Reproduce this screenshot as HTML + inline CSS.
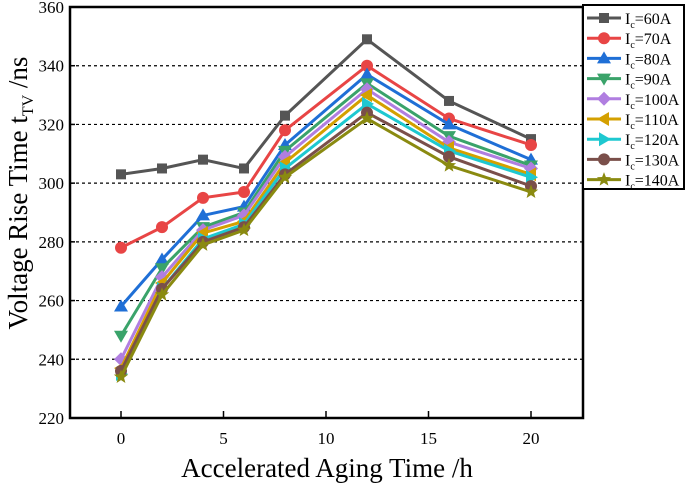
<!DOCTYPE html>
<html><head><meta charset="utf-8"><style>
body{margin:0;background:#fff;width:685px;height:485px;overflow:hidden}
svg text{font-family:"Liberation Serif",serif;fill:#000}
</style></head><body>
<svg id="chart" width="685" height="485"></svg>
<script>
const xs=[0,2,4,6,8,12,16,20];
const names=['60A','70A','80A','90A','100A','110A','120A','130A','140A'];
const s60=[303,305,308,305,323,349,328,315];
const s70=[278,285,295,297,318,340,322,313];
const s80=[258,274,289,292,313,337,320,308];
const s90=[248,271,285,290,311,334,316,306];
const s100=[240,268,284,289,309,332,314,305];
const s110=[237,266,283,287,307,330,312,303];
const s120=[235,264,281,286,305,327,311,302];
const s130=[236,264,280,285,303,324,309,299];
const s140=[234,262,279,284,302,322,306,297];
const yTicks=[220,240,260,280,300,320,340,360];
const xTicks=[0,5,10,15,20];
const series=[s60,s70,s80,s90,s100,s110,s120,s130,s140];
const colors=['#555','#e84545','#1f6fd6','#3aa36a','#b07ee0','#d4a000','#1ec8d0','#7a4f4a','#8a8a10'];
const markers=['square','circle','up','down','diamond','left','right','hex','star'];
const L=70,R=583,T=7,B=418;
const X=v=>121+(v)*(531-121)/20;
const Y=v=>B-(v-220)*(B-T)/140;
const svg=document.getElementById('chart');
const NS='http://www.w3.org/2000/svg';
function mk(t,a,p){const e=document.createElementNS(NS,t);for(const k in a)e.setAttribute(k,a[k]);(p||svg).appendChild(e);return e;}
yTicks.forEach(v=>{if(v>220&&v<360){const g=mk('line',{x1:L,x2:R,y1:Y(v),y2:Y(v),stroke:'#000','stroke-dasharray':'3,3','stroke-width':1.2});

}
const t=mk('text',{x:L-6,y:Y(v)+6,'text-anchor':'end','font-size':17});t.textContent=v;


mk('line',{x1:L,x2:L+5,y1:Y(v),y2:Y(v),stroke:'#000','stroke-width':1.5});});
xTicks.forEach(v=>{const t=mk('text',{x:X(v),y:B+26,'text-anchor':'middle','font-size':17});t.textContent=v;


mk('line',{x1:X(v),x2:X(v),y1:B,y2:B-7,stroke:'#000','stroke-width':1.5});});
function marker(type,x,y,c,p){let e;
if(type==='square')e=mk('rect',{x:x-5,y:y-5,width:10,height:10,fill:c},p);
else if(type==='circle')e=mk('circle',{cx:x,cy:y,r:6,fill:c},p);
else if(type==='hex')e=mk('circle',{cx:x,cy:y,r:6,fill:c},p);
else{let pts;
if(type==='up')pts=[[0,-7],[7,5],[-7,5]];
else if(type==='down')pts=[[0,7],[7,-5],[-7,-5]];
else if(type==='diamond')pts=[[0,-7],[7,0],[0,7],[-7,0]];
else if(type==='left')pts=[[-7,0],[5,-7],[5,7]];
else if(type==='right')pts=[[7,0],[-5,-7],[-5,7]];
else{pts=[];for(let i=0;i<10;i++){const a=-Math.PI/2+i*Math.PI/5,rr=i%2?3.2:7.5;pts.push([rr*Math.cos(a),rr*Math.sin(a)]);}}
e=mk('polygon',{points:pts.map(q=>(x+q[0])+','+(y+q[1])).join(' '),fill:c},p);}
return e;}
series.forEach((s,i)=>{const g=mk('g',{});


mk('polyline',{points:s.map((v,j)=>X(xs[j])+','+Y(v)).join(' '),fill:'none',stroke:colors[i],'stroke-width':3},g);
s.forEach((v,j)=>{const m=marker(markers[i],X(xs[j]),Y(v),colors[i],g);

});});
mk('rect',{x:L,y:T,width:R-L,height:B-T,fill:'none',stroke:'#000','stroke-width':2.5});
const lg=mk('g',{});


mk('rect',{x:583,y:5,width:101,height:184,fill:'#fff',stroke:'#000','stroke-width':2},lg);
names.forEach((n,i)=>{const y=18+i*20.2;const e=mk('g',{},lg);


mk('line',{x1:587,x2:621,y1:y,y2:y,stroke:colors[i],'stroke-width':3},e);
marker(markers[i],604,y,colors[i],e);
const t=mk('text',{x:625,y:y+6,'font-size':16},e);
t.innerHTML='I<tspan font-size="10" dy="4">c</tspan><tspan dy="-4">='+n+'</tspan>';});
const xl=mk('text',{x:327,y:477,'text-anchor':'middle','font-size':27});xl.textContent='Accelerated Aging Time /h';


const yl=mk('text',{x:0,y:0,'text-anchor':'middle','font-size':27,transform:'translate(27,193) rotate(-90)'});
yl.innerHTML='Voltage Rise Time t<tspan font-size="16" dy="6">TV</tspan><tspan dy="-6"> /ns</tspan>';


</script>
</body></html>
